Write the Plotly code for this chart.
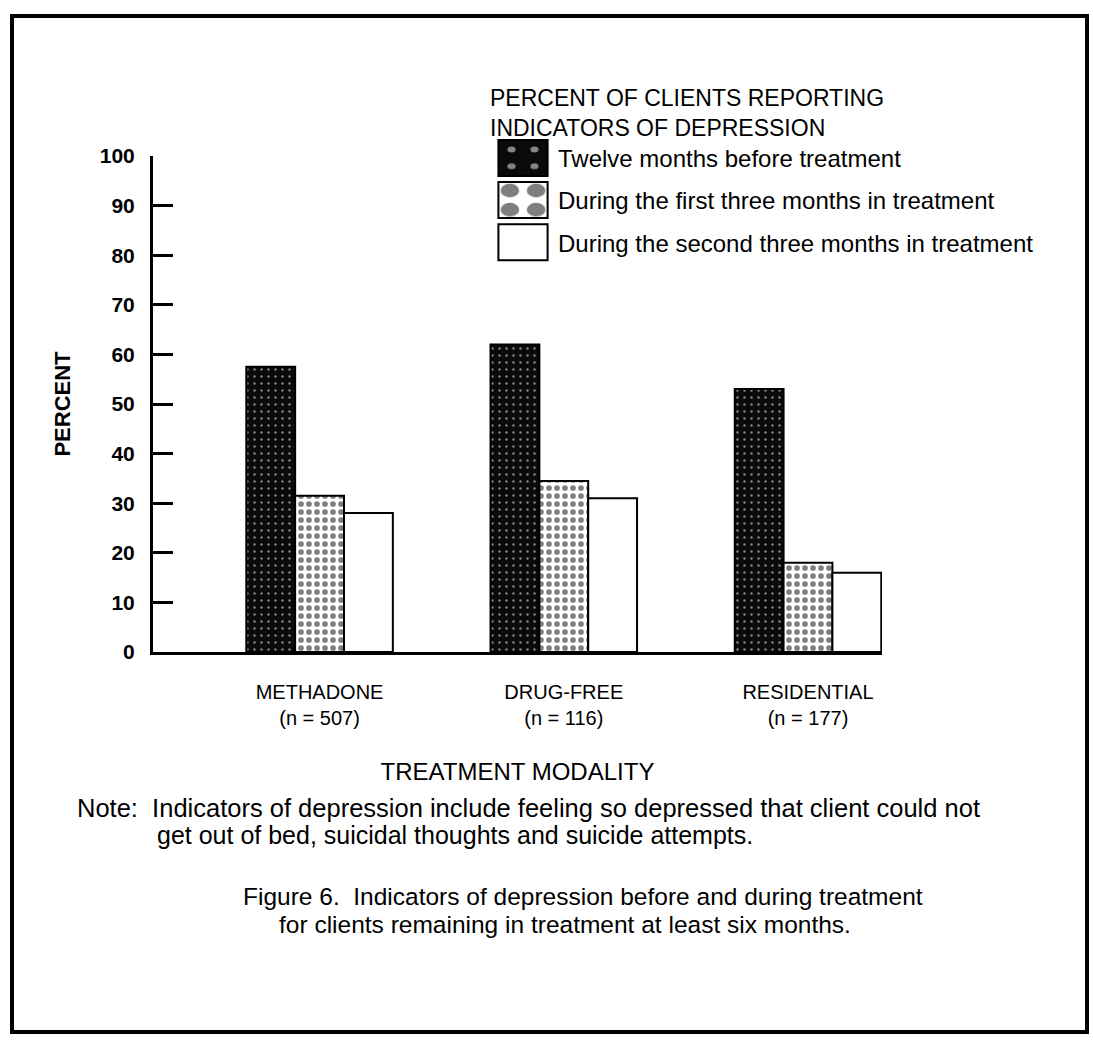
import plotly.graph_objects as go

# ---------------- data ----------------
categories = ["METHADONE<br>(n = 507)", "DRUG-FREE<br>(n = 116)", "RESIDENTIAL<br>(n = 177)"]
series_names = [
    "Twelve months before treatment",
    "During the first three months in treatment",
    "During the second three months in treatment",
]
twelve_before = [57.5, 62, 53]
first_three = [31.5, 34.5, 18]
second_three = [28, 31, 16]
y_ticks = [0, 10, 20, 30, 40, 50, 60, 70, 80, 90, 100]

# ---------------- layout helpers (pixel -> paper) ----------------
W_FIG, H_FIG = 1093, 1043
L, R_EDGE, T, B = 153, 882, 156, 652
PW, PH = R_EDGE - L, B - T


def px(x):
    return (x - L) / PW


def py(y):
    return (B - y) / PH


FONT = "Liberation Sans, Arial, sans-serif"

xpos = list(range(len(categories)))

styles = [
    dict(color="#0a0a0a", pattern=dict(shape=".", fgcolor="white", bgcolor="#0a0a0a", size=7, solidity=0.1)),
    dict(color="white", pattern=dict(shape=".", fgcolor="black", bgcolor="white", size=8, solidity=0.4)),
    dict(color="white"),
]
values = [twelve_before, first_three, second_three]

fig = go.Figure()
for i, (name, vals, st) in enumerate(zip(series_names, values, styles)):
    fig.add_trace(go.Bar(
        x=xpos, y=vals, name=name, legendgroup=f"g{i}",
        marker=dict(line=dict(color="black", width=2), **st),
    ))

fig.update_layout(
    width=W_FIG, height=H_FIG,
    paper_bgcolor="white", plot_bgcolor="white",
    margin=dict(l=L, r=W_FIG - R_EDGE, t=T, b=H_FIG - B, autoexpand=False),
    barmode="group", bargap=0.4, bargroupgap=0,
    font=dict(family=FONT, color="black"),
    showlegend=True,
    legend=dict(
        x=px(488), y=py(76), xanchor="left", yanchor="top",
        xref="paper", yref="paper",
        bgcolor="rgba(0,0,0,0)",
        title=dict(text="PERCENT OF CLIENTS REPORTING<br>INDICATORS OF DEPRESSION",
                   font=dict(size=23, family=FONT), side="top"),
        font=dict(size=24, family=FONT),
        itemwidth=60, tracegroupgap=8, traceorder="grouped",
        itemclick=False, itemdoubleclick=False,
    ),
    xaxis=dict(
        range=[-0.682, 2.303], tickvals=xpos, ticktext=categories,
        showline=True, linecolor="black", linewidth=3,
        showgrid=False, zeroline=False, ticks="",
        tickfont=dict(size=20, family=FONT),
        ticklabelstandoff=20,
        title=dict(text="TREATMENT MODALITY", font=dict(size=24, family=FONT), standoff=36),
    ),
    yaxis=dict(
        range=[0, 100], tickvals=y_ticks,
        showline=True, linecolor="black", linewidth=3,
        showgrid=False, zeroline=False,
        ticks="inside", ticklen=20, tickwidth=3, tickcolor="black",
        tickfont=dict(size=21, family=FONT, weight="bold"),
        ticklabelstandoff=11,
        title=dict(text="PERCENT", font=dict(size=22, family=FONT, weight="bold"), standoff=24),
    ),
)

# page frame
fig.add_shape(type="rect", xref="paper", yref="paper",
              x0=px(12), x1=px(1087), y0=py(1032), y1=py(16),
              line=dict(color="black", width=4), fillcolor="rgba(0,0,0,0)", layer="below")

# note and caption
fig.add_annotation(xref="paper", yref="paper", x=px(75), y=py(808), xanchor="left", yanchor="middle",
                   text="Note:  Indicators of depression include feeling so depressed that client could not",
                   showarrow=False, font=dict(size=25.5, family=FONT))
fig.add_annotation(xref="paper", yref="paper", x=px(155), y=py(835), xanchor="left", yanchor="middle",
                   text="get out of bed, suicidal thoughts and suicide attempts.",
                   showarrow=False, font=dict(size=25, family=FONT))
fig.add_annotation(xref="paper", yref="paper", x=px(583), y=py(896), xanchor="center", yanchor="middle",
                   text="Figure 6.  Indicators of depression before and during treatment",
                   showarrow=False, font=dict(size=24.5, family=FONT))
fig.add_annotation(xref="paper", yref="paper", x=px(565), y=py(924), xanchor="center", yanchor="middle",
                   text="for clients remaining in treatment at least six months.",
                   showarrow=False, font=dict(size=24.5, family=FONT))

post = """
document.body.style.margin = '0';
document.body.style.overflow = 'hidden';
var gd = document.getElementById('{plot_id}');
function enlargeSwatches(){
  var paths = gd.querySelectorAll('g.legendpoints path');
  paths.forEach(function(p){
    if (p.getAttribute('data-big')) return;
    var t = p.getAttribute('transform') || '';
    p.setAttribute('transform', t + ' scale(4.1,3.0)');
    p.setAttribute('data-big', '1');
    p.style.vectorEffect = 'non-scaling-stroke';
  });
}
enlargeSwatches();
if (gd.on) gd.on('plotly_afterplot', enlargeSwatches);
"""

fig.write_html("out.html", post_script=post, config={"displayModeBar": False})
